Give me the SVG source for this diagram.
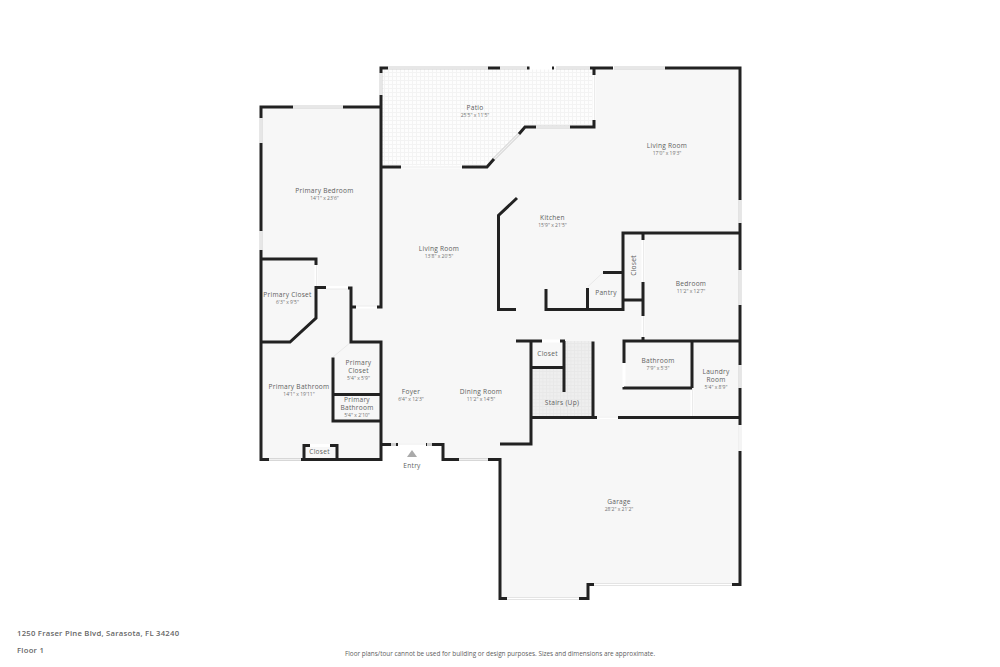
<svg xmlns="http://www.w3.org/2000/svg" width="1000" height="667" viewBox="0 0 1000 667">
<style>
text{font-family:"Open Sans","Liberation Sans",sans-serif;text-anchor:middle;fill:#606060}
.n{font-size:6.6px;letter-spacing:.25px}
.d{font-size:5px;fill:#707070}
.f{text-anchor:start;font-size:7.700px;letter-spacing:.25px;font-weight:600;fill:#666}
.x{font-size:6.400px;fill:#606060}
.w{fill:none;stroke:#222;stroke-width:3;stroke-linecap:butt;stroke-linejoin:miter}
.g{fill:none;stroke:#cfcfcf;stroke-width:3}
.gi{fill:none;stroke:#f0f0f0;stroke-width:1.400}
.o{fill:none;stroke:#fff;stroke-width:3}
.t{fill:none;stroke:#e2e2e2;stroke-width:.7}
</style>
<defs>
<pattern id="dots" width="4" height="4" patternUnits="userSpaceOnUse"><rect width="4" height="4" fill="#fdfdfd"/><path d="M0 .5H4M.5 0V4" stroke="#f3f3f3" stroke-width="1"/></pattern>
<pattern id="dotsS" width="3.500" height="3.500" patternUnits="userSpaceOnUse"><rect width="3.500" height="3.500" fill="#eeeeee"/><path d="M0 .5H3.500M.5 0V3.500" stroke="#e7e7e7" stroke-width=".8"/></pattern>
</defs>
<rect width="1000" height="667" fill="#fff"/>
<g id="floor">
<path fill="#f7f7f7" d="M261 107H381V68H740V584.500H588V598.500H500V459.500H443V444.500H381V459.500H261Z"/>
<path fill="url(#dots)" d="M381 68H594V127H525L487 167H381Z"/>
<path fill="url(#dotsS)" d="M531 417.500V367.500H564V341H593V417.500Z"/>
</g>
<g id="openings">
<path class="o" d="M530 68H552M594 75V120M401 167H462M316 265V287M326 287.500H348M356 307H377M333 395V416M310 445.500H330M398 444.500H426M643 240V282M643 316V337M542 341H560M624 363V387M692 388V416M597 417.500H618"/>
<path class="t" d="M333 357L351 342M587.500 287L603 272.500M594.500 75V120M401 167H462M326 289H348M356 306H377M316.500 265V287M643.500 240V282M643.500 316V337M692.500 388V416M398 444H426M597 417H618M740 425V451"/>
<path class="g" d="M388 68H488M500 68H527M556 68H590M614 68H665M381 73V95M536 127H570M519 134L494 159M293 107H343M261 118V143M261 231V250M269 459.500H301M740 200V223M740 270V305M740 365V388M391 444.500H396M427 444.500H432M459 459.500H488"/>
<path class="gi" d="M388 68H488M500 68H527M556 68H590M614 68H665M381 73V95M536 127H570M519 134L494 159M293 107H343M261 118V143M261 231V250M269 459.500H301M740 200V223M740 270V305M740 365V388M459 459.500H488"/>
<path fill="none" stroke="#e4e4e4" stroke-width="2.800" d="M740 425V451M507 598.500H579M594 584.500H732"/>
<path fill="none" stroke="#fff" stroke-width="1.200" d="M740 425V451M507 598.500H579M594 584.500H732"/>
</g>
<g id="walls">
<path class="w" d="M388 68H381V73M381 95V307H377M343 107H381M488 68H500M527 68H529.500M552 68H554M590 68H613M665 68H740V200M594 68V75M594 120V127H570M536 127H525L519 134M494 159L487 167H462M401 167H381"/>
<path class="w" d="M293 107H261V118M261 143V231M261 250V459.500H269M301 459.500H381V342H351V288H348M326 287.500H316V318L290 342H261M261 259H316V265M356 307H351"/>
<path class="w" d="M333 357.500V421H381M333 394.500H381M304 459.500V445.500H310M330 445.500H337V459.500"/>
<path class="w" d="M517 198L498.500 215.500V309.500H516M546 289V309.500H623V233H740M587.500 309.500V288M603 272.500H623M623 300H643M643 233V240M643 282V316M740 223V270M740 305V365M740 388V425M740 451V584.500H732M643 337V341"/>
<path class="w" d="M516 341H542M560 341H565M564 341V392M531 367.500H564M531 341V444H500M593 341.500V417.500M531 417.500H597M618 417.500H740M624 363V341H740M624 387V388H692M692 341V388"/>
<path class="w" d="M381 444.500H391M396 444.500H398M426 444.500H427M432 444.500H443V459.500H459M488 459.500H500V598.500H507M579 598.500H588V584.500H594"/>
</g>
<g id="patio"><text class="n" x="475" y="110">Patio</text><text class="d" x="475" y="117">25'5" x 11'5"</text></g>
<g id="living-room-1"><text class="n" x="667" y="148">Living Room</text><text class="d" x="667" y="155">17'0" x 19'3"</text></g>
<g id="primary-bedroom"><text class="n" x="324.500" y="192.500">Primary Bedroom</text><text class="d" x="324.500" y="199.500">14'1" x 23'6"</text></g>
<g id="kitchen"><text class="n" x="552.500" y="220">Kitchen</text><text class="d" x="552.500" y="227">15'9" x 21'5"</text></g>
<g id="living-room-2"><text class="n" x="439" y="251">Living Room</text><text class="d" x="439" y="258">13'8" x 20'5"</text></g>
<g id="primary-closet-1"><text class="n" x="287.500" y="297">Primary Closet</text><text class="d" x="287.500" y="304">6'3" x 9'5"</text></g>
<g id="closet-1"><text class="n" transform="translate(636 265.500) rotate(-90)">Closet</text></g>
<g id="bedroom"><text class="n" x="691" y="285.500">Bedroom</text><text class="d" x="691" y="292.500">11'2" x 12'7"</text></g>
<g id="pantry"><text class="n" x="606" y="294.500">Pantry</text></g>
<g id="closet-2"><text class="n" x="547.500" y="355.500">Closet</text></g>
<g id="primary-closet-2"><text class="n" x="358.500" y="364.500">Primary</text><text class="n" x="358.500" y="373">Closet</text><text class="d" x="358.500" y="380">5'4" x 5'9"</text></g>
<g id="bathroom"><text class="n" x="658" y="363">Bathroom</text><text class="d" x="658" y="370">7'9" x 5'3"</text></g>
<g id="laundry-room"><text class="n" x="716" y="373.500">Laundry</text><text class="n" x="716" y="382">Room</text><text class="d" x="716" y="389">5'4" x 8'9"</text></g>
<g id="primary-bathroom-1"><text class="n" x="299" y="389">Primary Bathroom</text><text class="d" x="299" y="396">14'1" x 19'11"</text></g>
<g id="foyer"><text class="n" x="411" y="393.500">Foyer</text><text class="d" x="411" y="400.500">6'4" x 12'3"</text></g>
<g id="dining-room"><text class="n" x="481" y="393.500">Dining Room</text><text class="d" x="481" y="400.500">11'2" x 14'5"</text></g>
<g id="stairs"><text class="n" x="562" y="404.500">Stairs (Up)</text></g>
<g id="primary-bathroom-2"><text class="n" x="357" y="401.500">Primary</text><text class="n" x="357" y="410">Bathroom</text><text class="d" x="357" y="417">5'4" x 2'10"</text></g>
<g id="closet-3"><text class="n" x="319.500" y="454">Closet</text></g>
<g id="garage"><text class="n" x="619" y="503.500">Garage</text><text class="d" x="619" y="510.500">28'2" x 21'2"</text></g>
<g id="entry"><path fill="#aaa" d="M412 450L417 457H407Z"/><text class="n" x="412" y="468">Entry</text></g>
<g id="footer"><text class="f" x="17" y="636">1250 Fraser Pine Blvd, Sarasota, FL 34240</text><text class="f" x="17" y="653">Floor 1</text><text class="x" x="500" y="656">Floor plans/tour cannot be used for building or design purposes. Sizes and dimensions are approximate.</text></g>
</svg>
